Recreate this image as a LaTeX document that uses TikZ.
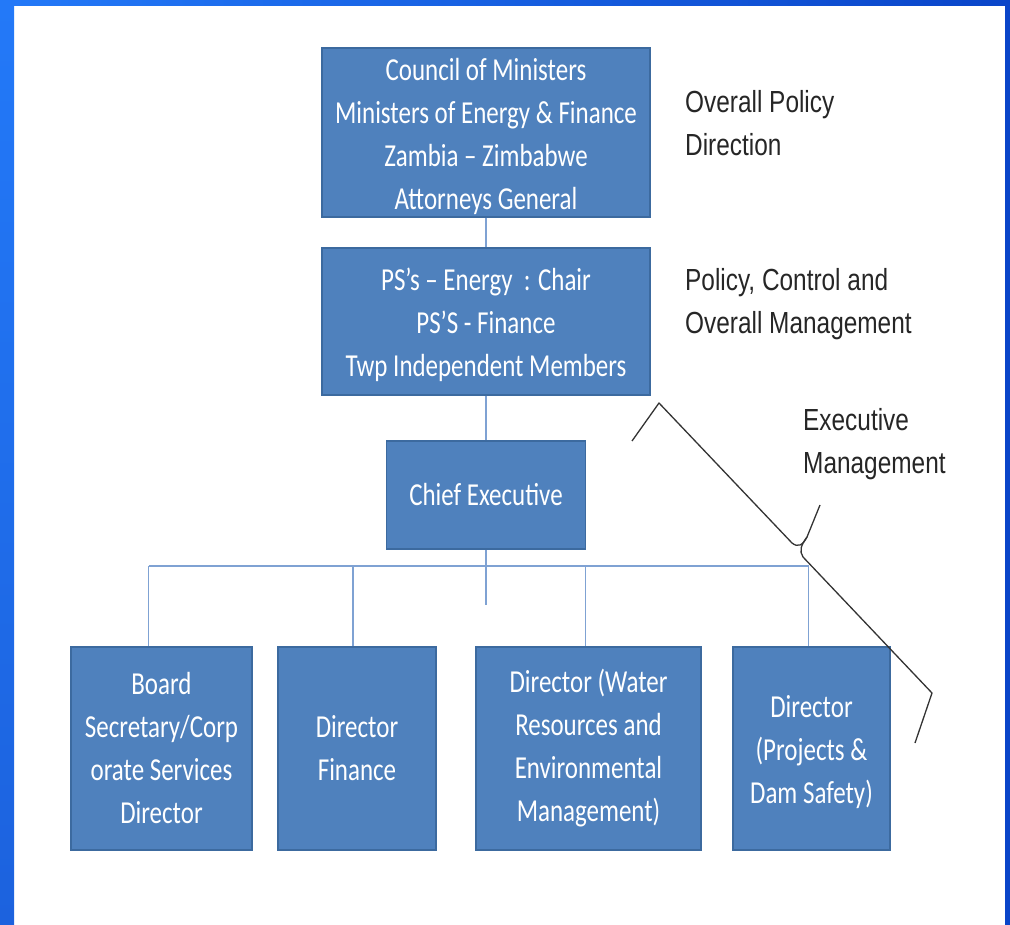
\documentclass[tikz,border=0pt]{standalone}
\usepackage{fontspec}
\usepackage{tikz}
\newfontfamily\boxfont[FakeStretch=0.78]{Carlito}
\newfontfamily\notefont[FakeStretch=0.8]{Liberation Sans}
\definecolor{boxblue}{HTML}{4F81BD}
\definecolor{boxline}{HTML}{3C6A9F}
\definecolor{linkblue}{HTML}{7FA2D3}
\definecolor{frameA}{HTML}{2379F8}
\definecolor{frameB}{HTML}{1C62DE}
\definecolor{frameC}{HTML}{0A45C9}

\begin{document}
\begin{tikzpicture}[x=1pt,y=-1pt,
  orgbox/.style={draw=boxline,line width=1.5pt,fill=boxblue,text=white,inner sep=0pt,
    align=center,font=\boxfont\fontsize{32}{43}\selectfont},
  link/.style={draw=linkblue,line width=1.2pt},
  note/.style={anchor=west,align=left,inner sep=0pt,text=black!85,
    font=\notefont\fontsize{30.5}{43}\selectfont}]
\useasboundingbox (0,0) rectangle (1010,925);
% frame
\shade[top color=frameA,bottom color=frameB] (0,0) rectangle (14,925);
\shade[left color=frameA,right color=frameC] (0,0) rectangle (1010,6);
\fill[frameC] (1005,0) rectangle (1010,925);
% boxes
\node[orgbox,minimum width=328,minimum height=169] (council) at (486,132.5)
  {\rule{0pt}{30pt}Council of Ministers\\Ministers of Energy \& Finance\\Zambia – Zimbabwe\\Attorneys General};
\node[orgbox,minimum width=328,minimum height=147] (psboard) at (486,321.5)
  {\rule{0pt}{30pt}PS’s – Energy\ \ : Chair\\PS’S - Finance\\Twp Independent Members};
\node[orgbox,minimum width=199,minimum height=108] (ceo) at (486,495) {Chief Executive};
\node[orgbox,minimum width=181,minimum height=203] (sec) at (161.5,748.5)
  {Board\\Secretary/Corp\\orate Services\\Director};
\node[orgbox,minimum width=158,minimum height=203] (fin) at (357,748.5)
  {Director\\Finance};
\node[orgbox,minimum width=225,minimum height=203] (water) at (588.5,748.5)
  {Director (Water\\Resources and\\Environmental\\Management)};
\node[orgbox,minimum width=157,minimum height=203] (dam) at (811.5,748.5)
  {\rule{0pt}{30pt}Director\\(Projects \&\\Dam Safety)};
% links
\coordinate (bus) at (0,566);
\coordinate (stub) at (0,605);
\draw[link] (council.south) -- (psboard.north);
\draw[link] (psboard.south) -- (ceo.north);
\draw[link] (ceo.south) -- (ceo.south |- stub);
\draw[link] ([xshift=-13]sec.north |- bus) -- ([xshift=-3]dam.north |- bus);
\foreach \n/\dx in {sec/-13,fin/-4,water/-3,dam/-3}
  \draw[link] ([xshift=\dx]\n.north |- bus) -- ([xshift=\dx]\n.north);
% notes
\node[note] (policy) at (685,123.5) {Overall Policy\\Direction};
\node[note] (control) at (685,304) {Policy, Control and\\Overall Management};
\node[note] (exec) at (803,444) {Executive\\Management};
% brace
\draw[black!80,line width=1.3pt,line join=round]
  (632,441) -- (659,403) -- (792,543) .. controls (798,548) and (803,545) .. (807,537) -- (820,505);
\draw[black!80,line width=1.3pt,line join=round]
  (807,537) .. controls (801,545) and (799,551) .. (803,557) -- (932,693) -- (915,743);
\end{tikzpicture}
\end{document}
